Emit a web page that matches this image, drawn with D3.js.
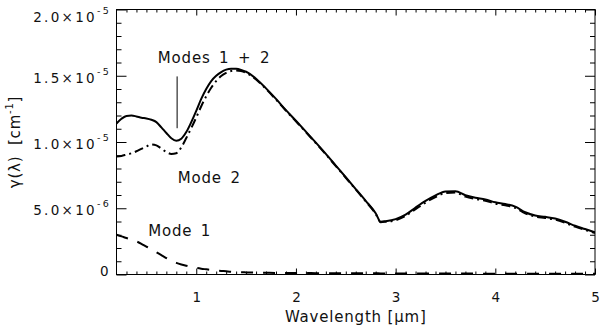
<html>
<head>
<script type="text/javascript" src="https://cdn.jsdelivr.net/npm/d3@7"></script>
<style>
  body { margin: 0; background: #fff; }
  svg text { font-family: "DejaVu Sans", sans-serif; fill: #111; }
</style>
</head>
<body>
<div id="chart"></div>
<script type="text/javascript">

// wavelength grid in micron
var wavelength = [0.2,0.25,0.3,0.35,0.4,0.45,0.5,0.55,0.6,0.65,0.7,0.75,0.8,0.85,0.9,0.95,
  1.0,1.05,1.1,1.15,1.2,1.25,1.3,1.35,1.4,1.45,1.5,1.6,1.7,1.8,1.9,2.0,2.1,2.2,2.3,2.4,2.5,
  2.6,2.7,2.8,2.85,2.9,3.0,3.1,3.2,3.3,3.4,3.5,3.6,3.7,3.8,3.9,4.0,4.1,4.2,4.3,4.4,4.5,4.6,
  4.7,4.8,4.9,5.0];

// gamma in units of 1e-5 cm^-1
var modes12 = [1.140,1.175,1.197,1.200,1.193,1.183,1.178,1.168,1.150,1.110,1.068,1.028,1.010,1.025,1.075,1.150,
  1.235,1.325,1.400,1.460,1.500,1.528,1.546,1.553,1.552,1.544,1.530,1.478,1.405,1.325,1.240,1.160,1.078,0.995,0.910,0.822,0.734,
  0.645,0.556,0.462,0.398,0.402,0.418,0.452,0.505,0.555,0.597,0.627,0.628,0.598,0.580,0.567,0.545,0.532,0.512,0.470,0.445,0.435,0.422,
  0.398,0.368,0.343,0.318];

var mode2 = [0.890,0.895,0.905,0.915,0.930,0.948,0.966,0.982,0.975,0.950,0.925,0.910,0.915,0.960,1.030,1.105,
  1.185,1.270,1.345,1.410,1.460,1.498,1.522,1.536,1.540,1.535,1.522,1.472,1.400,1.320,1.236,1.156,1.074,0.991,0.906,0.818,0.730,
  0.641,0.552,0.458,0.395,0.398,0.410,0.442,0.493,0.543,0.585,0.615,0.618,0.588,0.570,0.557,0.535,0.522,0.503,0.461,0.437,0.427,0.414,
  0.390,0.361,0.337,0.313];

var mode1 = [0.300,0.288,0.275,0.263,0.250,0.232,0.210,0.190,0.168,0.146,0.124,0.103,0.088,0.076,0.066,0.057,
  0.050,0.044,0.039,0.034,0.030,0.027,0.024,0.021,0.019,0.017,0.016,0.014,0.013,0.012,0.012,0.011,0.011,0.010,0.010,0.010,0.009,
  0.009,0.009,0.009,0.008,0.008,0.008,0.008,0.008,0.007,0.007,0.007,0.007,0.007,0.007,0.006,0.006,0.006,0.006,0.006,0.006,0.006,0.005,
  0.005,0.005,0.005,0.005];

var xTicks = [1, 2, 3, 4, 5];
var yTicks = [0, 5e-6, 1e-5, 1.5e-5, 2e-5];
var yTickMantissa = ["0", "5.0\u00d710", "1.0\u00d710", "1.5\u00d710", "2.0\u00d710"];
var yTickExponent = ["", "-6", "-5", "-5", "-5"];

// annotations: text, wavelength, gamma (1e-5)
var labelText = ["Modes 1 + 2", "Mode 2", "Mode 1"];
var labelLam = [0.615, 0.815, 0.518];
var labelVal = [1.595, 0.6915, 0.29];
var pointerLam = 0.808;
var pointerVal = [1.495, 1.104];

var width = 600, height = 329;
var margin = {left: 116.5, right: 5, top: 9.5, bottom: 54.5};
var w = width - margin.left - margin.right;
var h = height - margin.top - margin.bottom;

var svg = d3.select("#chart").append("svg")
  .attr("width", width)
  .attr("height", height);

var g = svg.append("g")
  .attr("transform", "translate(" + margin.left + "," + margin.top + ")");

var x = d3.scaleLinear().domain([0.2, 5]).range([0, w]);
var y = d3.scaleLinear().domain([0, 2e-5]).range([h, 0]);

var xMinor = d3.range(3, 50).map(function(d) { return d / 10; })
  .filter(function(d) { return Math.abs(d - Math.round(d)) > 1e-6; });
var yMinor = d3.range(1, 20).filter(function(d) { return d % 5 !== 0; }).map(function(d) { return d * 1e-6; });

function styleAxis(sel) {
  sel.select(".domain").remove();
  sel.selectAll("line").attr("stroke", "#000").attr("stroke-width", 1);
}

// minor ticks, all four sides, pointing inward
g.append("g").attr("transform", "translate(0," + h + ")")
  .call(d3.axisBottom(x).tickValues(xMinor).tickSize(-3).tickFormat("")).call(styleAxis);
g.append("g")
  .call(d3.axisTop(x).tickValues(xMinor).tickSize(-3).tickFormat("")).call(styleAxis);
g.append("g")
  .call(d3.axisLeft(y).tickValues(yMinor).tickSize(-5).tickFormat("")).call(styleAxis);
g.append("g").attr("transform", "translate(" + w + ",0)")
  .call(d3.axisRight(y).tickValues(yMinor).tickSize(-5).tickFormat("")).call(styleAxis);

// major ticks
var xAx = g.append("g").attr("transform", "translate(0," + h + ")")
  .call(d3.axisBottom(x).tickValues(xTicks).tickSize(-6).tickPadding(17.5).tickFormat(d3.format("d")));
xAx.call(styleAxis);
xAx.selectAll("text").attr("font-size", 13.5).attr("fill", "#111");

g.append("g")
  .call(d3.axisTop(x).tickValues(xTicks).tickSize(-6).tickFormat("")).call(styleAxis);
g.append("g").attr("transform", "translate(" + w + ",0)")
  .call(d3.axisRight(y).tickValues(yTicks).tickSize(-10).tickFormat("")).call(styleAxis);

var yAx = g.append("g")
  .call(d3.axisLeft(y).tickValues(yTicks).tickSize(-10).tickFormat(""));
yAx.call(styleAxis);

yAx.selectAll(".tick").each(function(d, i) {
  var shift = 6.5;
  if (i === 0) shift = 0.5;
  if (i === yTicks.length - 1) shift = 12;
  var t = d3.select(this).append("text")
    .attr("x", -5.5)
    .attr("y", shift)
    .attr("text-anchor", "end")
    .attr("font-size", 13.5)
    .attr("fill", "#111")
    .style("letter-spacing", "2.3px");
  t.append("tspan").text(yTickMantissa[i]);
  if (yTickExponent[i] !== "") {
    t.append("tspan").attr("dy", -8).attr("font-size", 9.5).text(yTickExponent[i]);
  }
});

// frame
g.append("rect")
  .attr("width", w).attr("height", h)
  .attr("fill", "none").attr("stroke", "#000").attr("stroke-width", 1);

// axis titles
svg.append("text")
  .attr("x", margin.left + w / 2)
  .attr("y", 321.5)
  .attr("text-anchor", "middle")
  .attr("font-size", 15)
  .style("letter-spacing", "0.8px")
  .text("Wavelength [\u03bcm]");

var yt = svg.append("text")
  .attr("transform", "translate(20," + (margin.top + h / 2) + ") rotate(-90)")
  .attr("text-anchor", "middle")
  .attr("font-size", 15)
  .style("letter-spacing", "0.8px")
  .style("word-spacing", "5px");
yt.append("tspan").text("\u03b3(\u03bb) [cm");
yt.append("tspan").attr("dy", -7).attr("font-size", 10).text("-1");
yt.append("tspan").attr("dy", 7).text("]");

// curves
var series = [
  {vals: modes12, dash: null},
  {vals: mode2, dash: "9,4,2,4"},
  {vals: mode1, dash: "12,10"}
];

var line = d3.line()
  .x(function(d) { return x(d[0]); })
  .y(function(d) { return y(d[1] * 1e-5); })
  .curve(d3.curveMonotoneX);

g.append("defs").append("clipPath").attr("id", "clip")
  .append("rect").attr("width", w).attr("height", h);

series.forEach(function(s) {
  var pts = wavelength.map(function(l, i) { return [l, s.vals[i]]; });
  g.append("path")
    .attr("clip-path", "url(#clip)")
    .attr("d", line(pts))
    .attr("fill", "none")
    .attr("stroke", "#000")
    .attr("stroke-width", 2)
    .attr("stroke-dasharray", s.dash);
});

// labels
labelText.forEach(function(txt, i) {
  g.append("text")
    .attr("x", x(labelLam[i]))
    .attr("y", y(labelVal[i] * 1e-5))
    .attr("font-size", 15)
    .style("letter-spacing", "0.8px")
    .style("word-spacing", "3px")
    .text(txt);
});

g.append("line")
  .attr("x1", x(pointerLam)).attr("x2", x(pointerLam))
  .attr("y1", y(pointerVal[0] * 1e-5)).attr("y2", y(pointerVal[1] * 1e-5))
  .attr("stroke", "#000").attr("stroke-width", 1);

</script>
</body>
</html>
